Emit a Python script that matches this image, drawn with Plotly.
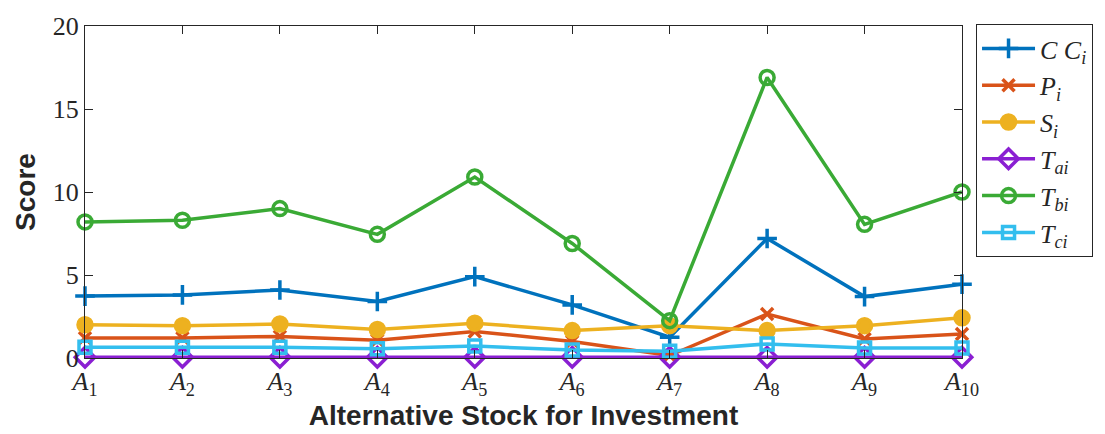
import plotly.graph_objects as go

categories = [f"A{i}" for i in range(1, 11)]
tick_labels = [f"<i>A</i><sub>{i}</sub>" for i in range(1, 11)]
x_pos = list(range(1, 11))

cc = [3.73, 3.8, 4.1, 3.4, 4.9, 3.2, 1.25, 7.2, 3.7, 4.45]
p = [1.2, 1.2, 1.3, 1.07, 1.6, 1.0, 0.15, 2.65, 1.15, 1.45]
s = [2.0, 1.95, 2.05, 1.72, 2.1, 1.65, 1.95, 1.65, 1.95, 2.42]
ta = [0.05, 0.05, 0.05, 0.05, 0.05, 0.05, 0.05, 0.05, 0.05, 0.05]
tb = [8.2, 8.3, 9.0, 7.45, 10.9, 6.9, 2.25, 16.9, 8.05, 10.0]
tc = [0.65, 0.65, 0.65, 0.55, 0.72, 0.48, 0.4, 0.85, 0.6, 0.6]

series = [
    ("<i>C C<sub>i</sub></i>", cc, "#0072BD", "cross-thin", 14),
    ("<i>P<sub>i</sub></i>", p, "#D95319", "x-thin", 12),
    ("<i>S<sub>i</sub></i>", s, "#EDB120", "circle", 14),
    ("<i>T<sub>ai</sub></i>", ta, "#8A1FD2", "diamond-open", 15),
    ("<i>T<sub>bi</sub></i>", tb, "#3AAA35", "circle-open", 14),
    ("<i>T<sub>ci</sub></i>", tc, "#33BEEE", "square-open", 12),
]

fig = go.Figure()
for name, vals, color, sym, size in series:
    fig.add_trace(go.Scatter(
        x=x_pos, y=vals, name=name, mode="lines+markers",
        line=dict(color=color, width=3.5),
        marker=dict(symbol=sym, size=size, color=color,
                    line=dict(color=color, width=3.5)),
        cliponaxis=False,
    ))

fig.update_layout(
    width=1105, height=434,
    margin=dict(l=85, r=143, t=20, b=76),
    plot_bgcolor="white", paper_bgcolor="white",
    font=dict(family="Liberation Serif", size=26, color="#262626"),
    showlegend=True,
    legend=dict(
        x=1.016, y=1.006, xanchor="left", yanchor="top",
        bordercolor="#262626", borderwidth=1,
        font=dict(family="Liberation Serif", size=26, color="#262626"),
        bgcolor="white",
        maxheight=430,
        itemwidth=53,
    ),
)
fig.update_xaxes(
    range=[1, 10], tickvals=x_pos, ticktext=tick_labels,
    ticks="inside", ticklen=8, tickcolor="#262626",
    showline=True, linecolor="#262626", linewidth=1, mirror="ticks",
    showgrid=False, zeroline=False,
    tickfont=dict(family="Liberation Serif", size=26),
    title=dict(text="<b>Alternative Stock for Investment</b>",
               font=dict(family="Liberation Sans", size=28, color="#262626"),
               standoff=0),
)
fig.update_yaxes(
    range=[0, 20], tickvals=[0, 5, 10, 15, 20],
    ticks="inside", ticklen=8, tickcolor="#262626",
    showline=True, linecolor="#262626", linewidth=1, mirror="ticks",
    showgrid=False, zeroline=False,
    tickfont=dict(family="Liberation Serif", size=26),
    title=dict(text="<b>Score</b>",
               font=dict(family="Liberation Sans", size=28, color="#262626"),
               standoff=8),
)

fig.write_html("out.html")
